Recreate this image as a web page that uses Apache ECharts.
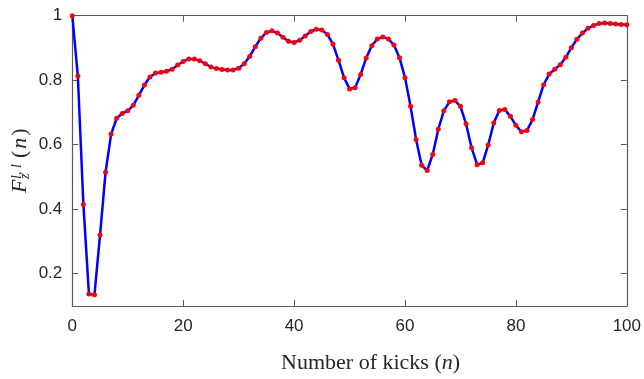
<!DOCTYPE html>
<html>
<head>
<meta charset="utf-8">
<script src="https://cdn.jsdelivr.net/npm/echarts@6/dist/echarts.min.js"></script>
<style>html,body{margin:0;padding:0;background:#fff}#c{width:644px;height:379px}</style>
</head>
<body>
<div id="c"></div>
<script>
const kicks = [0,1,2,3,4,5,6,7,8,9,10,11,12,13,14,15,16,17,18,19,20,21,22,23,24,25,26,27,28,29,30,31,32,33,34,35,36,37,38,39,40,41,42,43,44,45,46,47,48,49,50,51,52,53,54,55,56,57,58,59,60,61,62,63,64,65,66,67,68,69,70,71,72,73,74,75,76,77,78,79,80,81,82,83,84,85,86,87,88,89,90,91,92,93,94,95,96,97,98,99,100];
const fidelity = [1.000,0.813,0.415,0.137,0.135,0.320,0.515,0.633,0.682,0.697,
0.705,0.722,0.753,0.785,0.810,0.822,0.825,0.828,0.834,0.847,
0.858,0.866,0.866,0.860,0.851,0.841,0.836,0.833,0.832,0.832,
0.837,0.851,0.874,0.904,0.930,0.948,0.953,0.946,0.933,0.921,
0.917,0.924,0.937,0.951,0.958,0.956,0.942,0.912,0.862,0.808,
0.773,0.777,0.818,0.869,0.907,0.928,0.934,0.928,0.909,0.870,
0.808,0.719,0.616,0.536,0.520,0.570,0.648,0.705,0.733,0.737,
0.719,0.665,0.591,0.538,0.544,0.599,0.667,0.706,0.709,0.688,
0.660,0.640,0.644,0.678,0.732,0.786,0.819,0.834,0.848,0.871,
0.901,0.927,0.946,0.961,0.970,0.976,0.977,0.976,0.974,0.973,
0.972];
const xTicks = [0,20,40,60,80,100];
const yTicks = [0.2,0.4,0.6,0.8,1];

const axisColor = '#5a5a5a';
const labelColor = '#262626';
const tickFont = '"Liberation Sans", Arial, sans-serif';
const serif = '"Liberation Serif", "DejaVu Serif", serif';

const chart = echarts.init(document.getElementById('c'), null, {renderer:'canvas'});
const baseX = {type:'value', min:0, max:100, interval:20,
  axisLine:{show:true, onZero:false, lineStyle:{color:axisColor, width:1.2}},
  axisTick:{show:true, inside:true, length:6, lineStyle:{color:axisColor, width:1}},
  splitLine:{show:false}};
const baseY = {type:'value', min:0.1, max:1,
  axisLine:{show:true, onZero:false, lineStyle:{color:axisColor, width:1.2}},
  axisTick:{show:true, inside:true, length:6, customValues:yTicks, lineStyle:{color:axisColor, width:1}},
  splitLine:{show:false}};

chart.setOption({
  animation:false,
  grid:{left:72.3, right:16.5, top:15.7, bottom:72.3, containLabel:false},
  xAxis:[
    Object.assign({}, baseX, {position:'bottom',
      axisLabel:{show:true, margin:12, color:labelColor, fontSize:17, fontFamily:tickFont,
        customValues:xTicks, formatter:v=>String(v)},
      name:'Number of kicks ({i|n})', nameLocation:'middle', nameGap:46,
      nameTextStyle:{fontFamily:serif, fontSize:22, color:labelColor, padding:[0,0,0,42],
        rich:{i:{fontFamily:serif, fontStyle:'italic', fontSize:22, color:labelColor}}}}),
    Object.assign({}, baseX, {position:'top', axisLabel:{show:false}})
  ],
  yAxis:[
    Object.assign({}, baseY, {position:'left',
      axisLabel:{show:true, margin:10, color:labelColor, fontSize:17, fontFamily:tickFont,
        customValues:yTicks, formatter:v=>(Math.abs(v-1)<1e-9?'1':v.toFixed(1))}}),
    Object.assign({}, baseY, {position:'right', axisLabel:{show:false}})
  ],
  graphic:[{
    type:'group', x:20, y:160, rotation:Math.PI/2,
    children:[
      {type:'text', style:{text:'F', x:-33, y:0, font:'italic 22px '+serif, verticalAlign:'middle', align:'left', fill:labelColor}},
      {type:'text', style:{text:'l, l', x:-19, y:-10, font:'italic 14px '+serif, verticalAlign:'top', align:'left', fill:labelColor}},
      {type:'text', style:{text:'z', x:-19, y:5, font:'italic 14px '+serif, verticalAlign:'middle', align:'left', fill:labelColor}},
      {type:'text', style:{text:'{a|(}{i|n}{a|)}', x:1, y:0, font:'22px '+serif, verticalAlign:'middle', align:'left', fill:labelColor,
        rich:{a:{font:'22px '+serif, fill:labelColor, padding:[0,1,0,1]}, i:{font:'italic 22px '+serif, fill:labelColor, padding:[0,1,0,1]}}}}
    ]
  }],
  series:[{
    type:'line', xAxisIndex:0, yAxisIndex:0,
    data:kicks.map((k,i)=>[k, fidelity[i]]),
    lineStyle:{color:'#0000ff', width:2.5},
    symbol:'circle', symbolSize:5, showSymbol:true,
    itemStyle:{color:'#ff0000', borderWidth:0},
    clip:false
  }]
});
</script>
</body>
</html>
